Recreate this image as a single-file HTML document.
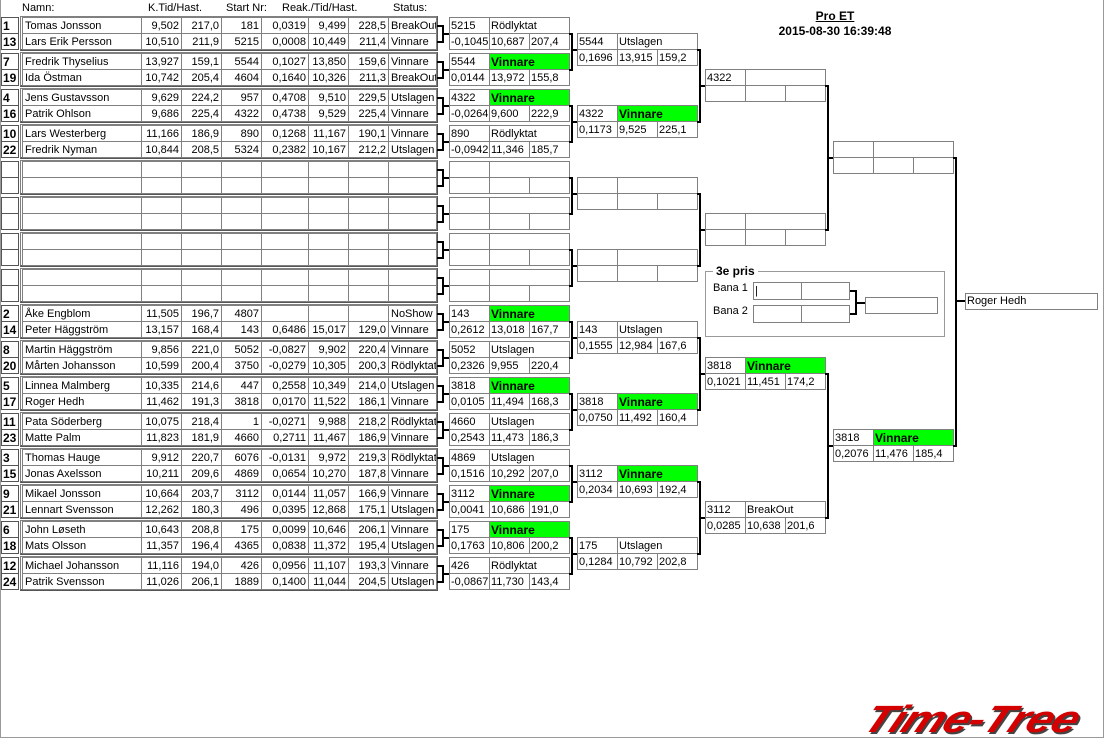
<!DOCTYPE html>
<html><head><meta charset="utf-8"><style>
body{margin:0;width:1104px;height:748px;background:#fff;position:relative;overflow:hidden;font-family:"Liberation Sans",sans-serif;font-size:11px;color:#000}
.a{position:absolute}
table{position:absolute;border-collapse:collapse;table-layout:fixed}
td{border:1px solid #808080;height:15px;padding:0 2px;font-size:11px;line-height:14px;white-space:nowrap;overflow:hidden;text-align:right}
table.L{left:22px;width:414px}
table.L td:first-child,table.L td:last-child{text-align:left}
table.S{left:1px;width:18px}
table.S td{font-weight:bold;font-size:12px;text-align:left;padding:0 1px;border-color:#555}
table.B{width:121px}
table.B td{text-align:left;padding:0 1px}
td.g{background:#00ff00;font-weight:bold;font-size:12px}
.fr{position:absolute;left:20px;width:415px;height:32px;border:1px solid #808080;border-right:2px solid #555;border-bottom:2px solid #555}
.k{position:absolute;background:#000}
.h{position:absolute;top:2px;font-size:11px}
</style></head><body>
<div class="a" style="left:0;top:0;width:1102px;height:737px;border-left:1px solid #999;border-right:1px solid #999;border-bottom:1px solid #999"></div>
<div class="h" style="left:22px">Namn:</div>
<div class="h" style="left:148px">K.Tid/Hast.</div>
<div class="h" style="left:226px">Start Nr:</div>
<div class="h" style="left:282px">Reak./Tid/Hast.</div>
<div class="h" style="left:393px">Status:</div>
<div class="a" style="left:775px;top:9px;width:120px;text-align:center;font-weight:bold;font-size:12px;text-decoration:underline">Pro ET</div>
<div class="a" style="left:755px;top:24px;width:160px;text-align:center;font-weight:bold;font-size:12px">2015-08-30 16:39:48</div>

<div class="fr" style="top:16px"></div><div class="fr" style="top:52px"></div><div class="fr" style="top:88px"></div><div class="fr" style="top:124px"></div>
<div class="fr" style="top:160px"></div><div class="fr" style="top:196px"></div><div class="fr" style="top:232px"></div><div class="fr" style="top:268px"></div>
<div class="fr" style="top:304px"></div><div class="fr" style="top:340px"></div><div class="fr" style="top:376px"></div><div class="fr" style="top:412px"></div>
<div class="fr" style="top:448px"></div><div class="fr" style="top:484px"></div><div class="fr" style="top:520px"></div><div class="fr" style="top:556px"></div>

<table class="S" style="top:17px"><tr><td>1</td></tr><tr><td>13</td></tr></table>
<table class="S" style="top:53px"><tr><td>7</td></tr><tr><td>19</td></tr></table>
<table class="S" style="top:89px"><tr><td>4</td></tr><tr><td>16</td></tr></table>
<table class="S" style="top:125px"><tr><td>10</td></tr><tr><td>22</td></tr></table>
<table class="S" style="top:161px"><tr><td></td></tr><tr><td></td></tr></table>
<table class="S" style="top:197px"><tr><td></td></tr><tr><td></td></tr></table>
<table class="S" style="top:233px"><tr><td></td></tr><tr><td></td></tr></table>
<table class="S" style="top:269px"><tr><td></td></tr><tr><td></td></tr></table>
<table class="S" style="top:305px"><tr><td>2</td></tr><tr><td>14</td></tr></table>
<table class="S" style="top:341px"><tr><td>8</td></tr><tr><td>20</td></tr></table>
<table class="S" style="top:377px"><tr><td>5</td></tr><tr><td>17</td></tr></table>
<table class="S" style="top:413px"><tr><td>11</td></tr><tr><td>23</td></tr></table>
<table class="S" style="top:449px"><tr><td>3</td></tr><tr><td>15</td></tr></table>
<table class="S" style="top:485px"><tr><td>9</td></tr><tr><td>21</td></tr></table>
<table class="S" style="top:521px"><tr><td>6</td></tr><tr><td>18</td></tr></table>
<table class="S" style="top:557px"><tr><td>12</td></tr><tr><td>24</td></tr></table>

<table class="L" style="top:17px"><colgroup><col style="width:119px"><col style="width:40px"><col style="width:40px"><col style="width:40px"><col style="width:47px"><col style="width:40px"><col style="width:40px"><col style="width:48px"></colgroup>
<tr><td>Tomas Jonsson</td><td>9,502</td><td>217,0</td><td>181</td><td>0,0319</td><td>9,499</td><td>228,5</td><td>BreakOut</td></tr>
<tr><td>Lars Erik Persson</td><td>10,510</td><td>211,9</td><td>5215</td><td>0,0008</td><td>10,449</td><td>211,4</td><td>Vinnare</td></tr></table>
<table class="L" style="top:53px"><colgroup><col style="width:119px"><col style="width:40px"><col style="width:40px"><col style="width:40px"><col style="width:47px"><col style="width:40px"><col style="width:40px"><col style="width:48px"></colgroup>
<tr><td>Fredrik Thyselius</td><td>13,927</td><td>159,1</td><td>5544</td><td>0,1027</td><td>13,850</td><td>159,6</td><td>Vinnare</td></tr>
<tr><td>Ida Östman</td><td>10,742</td><td>205,4</td><td>4604</td><td>0,1640</td><td>10,326</td><td>211,3</td><td>BreakOut</td></tr></table>
<table class="L" style="top:89px"><colgroup><col style="width:119px"><col style="width:40px"><col style="width:40px"><col style="width:40px"><col style="width:47px"><col style="width:40px"><col style="width:40px"><col style="width:48px"></colgroup>
<tr><td>Jens Gustavsson</td><td>9,629</td><td>224,2</td><td>957</td><td>0,4708</td><td>9,510</td><td>229,5</td><td>Utslagen</td></tr>
<tr><td>Patrik Ohlson</td><td>9,686</td><td>225,4</td><td>4322</td><td>0,4738</td><td>9,529</td><td>225,4</td><td>Vinnare</td></tr></table>
<table class="L" style="top:125px"><colgroup><col style="width:119px"><col style="width:40px"><col style="width:40px"><col style="width:40px"><col style="width:47px"><col style="width:40px"><col style="width:40px"><col style="width:48px"></colgroup>
<tr><td>Lars Westerberg</td><td>11,166</td><td>186,9</td><td>890</td><td>0,1268</td><td>11,167</td><td>190,1</td><td>Vinnare</td></tr>
<tr><td>Fredrik Nyman</td><td>10,844</td><td>208,5</td><td>5324</td><td>0,2382</td><td>10,167</td><td>212,2</td><td>Utslagen</td></tr></table>
<table class="L" style="top:161px"><colgroup><col style="width:119px"><col style="width:40px"><col style="width:40px"><col style="width:40px"><col style="width:47px"><col style="width:40px"><col style="width:40px"><col style="width:48px"></colgroup>
<tr><td></td><td></td><td></td><td></td><td></td><td></td><td></td><td></td></tr><tr><td></td><td></td><td></td><td></td><td></td><td></td><td></td><td></td></tr></table>
<table class="L" style="top:197px"><colgroup><col style="width:119px"><col style="width:40px"><col style="width:40px"><col style="width:40px"><col style="width:47px"><col style="width:40px"><col style="width:40px"><col style="width:48px"></colgroup>
<tr><td></td><td></td><td></td><td></td><td></td><td></td><td></td><td></td></tr><tr><td></td><td></td><td></td><td></td><td></td><td></td><td></td><td></td></tr></table>
<table class="L" style="top:233px"><colgroup><col style="width:119px"><col style="width:40px"><col style="width:40px"><col style="width:40px"><col style="width:47px"><col style="width:40px"><col style="width:40px"><col style="width:48px"></colgroup>
<tr><td></td><td></td><td></td><td></td><td></td><td></td><td></td><td></td></tr><tr><td></td><td></td><td></td><td></td><td></td><td></td><td></td><td></td></tr></table>
<table class="L" style="top:269px"><colgroup><col style="width:119px"><col style="width:40px"><col style="width:40px"><col style="width:40px"><col style="width:47px"><col style="width:40px"><col style="width:40px"><col style="width:48px"></colgroup>
<tr><td></td><td></td><td></td><td></td><td></td><td></td><td></td><td></td></tr><tr><td></td><td></td><td></td><td></td><td></td><td></td><td></td><td></td></tr></table>
<table class="L" style="top:305px"><colgroup><col style="width:119px"><col style="width:40px"><col style="width:40px"><col style="width:40px"><col style="width:47px"><col style="width:40px"><col style="width:40px"><col style="width:48px"></colgroup>
<tr><td>Åke Engblom</td><td>11,505</td><td>196,7</td><td>4807</td><td></td><td></td><td></td><td>NoShow</td></tr>
<tr><td>Peter Häggström</td><td>13,157</td><td>168,4</td><td>143</td><td>0,6486</td><td>15,017</td><td>129,0</td><td>Vinnare</td></tr></table>
<table class="L" style="top:341px"><colgroup><col style="width:119px"><col style="width:40px"><col style="width:40px"><col style="width:40px"><col style="width:47px"><col style="width:40px"><col style="width:40px"><col style="width:48px"></colgroup>
<tr><td>Martin Häggström</td><td>9,856</td><td>221,0</td><td>5052</td><td>-0,0827</td><td>9,902</td><td>220,4</td><td>Vinnare</td></tr>
<tr><td>Mårten Johansson</td><td>10,599</td><td>200,4</td><td>3750</td><td>-0,0279</td><td>10,305</td><td>200,3</td><td>Rödlyktat</td></tr></table>
<table class="L" style="top:377px"><colgroup><col style="width:119px"><col style="width:40px"><col style="width:40px"><col style="width:40px"><col style="width:47px"><col style="width:40px"><col style="width:40px"><col style="width:48px"></colgroup>
<tr><td>Linnea Malmberg</td><td>10,335</td><td>214,6</td><td>447</td><td>0,2558</td><td>10,349</td><td>214,0</td><td>Utslagen</td></tr>
<tr><td>Roger Hedh</td><td>11,462</td><td>191,3</td><td>3818</td><td>0,0170</td><td>11,522</td><td>186,1</td><td>Vinnare</td></tr></table>
<table class="L" style="top:413px"><colgroup><col style="width:119px"><col style="width:40px"><col style="width:40px"><col style="width:40px"><col style="width:47px"><col style="width:40px"><col style="width:40px"><col style="width:48px"></colgroup>
<tr><td>Pata Söderberg</td><td>10,075</td><td>218,4</td><td>1</td><td>-0,0271</td><td>9,988</td><td>218,2</td><td>Rödlyktat</td></tr>
<tr><td>Matte Palm</td><td>11,823</td><td>181,9</td><td>4660</td><td>0,2711</td><td>11,467</td><td>186,9</td><td>Vinnare</td></tr></table>
<table class="L" style="top:449px"><colgroup><col style="width:119px"><col style="width:40px"><col style="width:40px"><col style="width:40px"><col style="width:47px"><col style="width:40px"><col style="width:40px"><col style="width:48px"></colgroup>
<tr><td>Thomas Hauge</td><td>9,912</td><td>220,7</td><td>6076</td><td>-0,0131</td><td>9,972</td><td>219,3</td><td>Rödlyktat</td></tr>
<tr><td>Jonas Axelsson</td><td>10,211</td><td>209,6</td><td>4869</td><td>0,0654</td><td>10,270</td><td>187,8</td><td>Vinnare</td></tr></table>
<table class="L" style="top:485px"><colgroup><col style="width:119px"><col style="width:40px"><col style="width:40px"><col style="width:40px"><col style="width:47px"><col style="width:40px"><col style="width:40px"><col style="width:48px"></colgroup>
<tr><td>Mikael Jonsson</td><td>10,664</td><td>203,7</td><td>3112</td><td>0,0144</td><td>11,057</td><td>166,9</td><td>Vinnare</td></tr>
<tr><td>Lennart Svensson</td><td>12,262</td><td>180,3</td><td>496</td><td>0,0395</td><td>12,868</td><td>175,1</td><td>Utslagen</td></tr></table>
<table class="L" style="top:521px"><colgroup><col style="width:119px"><col style="width:40px"><col style="width:40px"><col style="width:40px"><col style="width:47px"><col style="width:40px"><col style="width:40px"><col style="width:48px"></colgroup>
<tr><td>John Løseth</td><td>10,643</td><td>208,8</td><td>175</td><td>0,0099</td><td>10,646</td><td>206,1</td><td>Vinnare</td></tr>
<tr><td>Mats Olsson</td><td>11,357</td><td>196,4</td><td>4365</td><td>0,0838</td><td>11,372</td><td>195,4</td><td>Utslagen</td></tr></table>
<table class="L" style="top:557px"><colgroup><col style="width:119px"><col style="width:40px"><col style="width:40px"><col style="width:40px"><col style="width:47px"><col style="width:40px"><col style="width:40px"><col style="width:48px"></colgroup>
<tr><td>Michael Johansson</td><td>11,116</td><td>194,0</td><td>426</td><td>0,0956</td><td>11,107</td><td>193,3</td><td>Vinnare</td></tr>
<tr><td>Patrik Svensson</td><td>11,026</td><td>206,1</td><td>1889</td><td>0,1400</td><td>11,044</td><td>204,5</td><td>Utslagen</td></tr></table>

<div class="k" style="left:437px;top:25px;width:7px;height:2px"></div><div class="k" style="left:437px;top:41px;width:7px;height:2px"></div><div class="k" style="left:442px;top:25px;width:2px;height:18px"></div><div class="k" style="left:442px;top:33px;width:7px;height:2px"></div>
<div class="k" style="left:437px;top:61px;width:7px;height:2px"></div><div class="k" style="left:437px;top:77px;width:7px;height:2px"></div><div class="k" style="left:442px;top:61px;width:2px;height:18px"></div><div class="k" style="left:442px;top:69px;width:7px;height:2px"></div>
<div class="k" style="left:437px;top:97px;width:7px;height:2px"></div><div class="k" style="left:437px;top:113px;width:7px;height:2px"></div><div class="k" style="left:442px;top:97px;width:2px;height:18px"></div><div class="k" style="left:442px;top:105px;width:7px;height:2px"></div>
<div class="k" style="left:437px;top:133px;width:7px;height:2px"></div><div class="k" style="left:437px;top:149px;width:7px;height:2px"></div><div class="k" style="left:442px;top:133px;width:2px;height:18px"></div><div class="k" style="left:442px;top:141px;width:7px;height:2px"></div>
<div class="k" style="left:437px;top:169px;width:7px;height:2px"></div><div class="k" style="left:437px;top:185px;width:7px;height:2px"></div><div class="k" style="left:442px;top:169px;width:2px;height:18px"></div><div class="k" style="left:442px;top:177px;width:7px;height:2px"></div>
<div class="k" style="left:437px;top:205px;width:7px;height:2px"></div><div class="k" style="left:437px;top:221px;width:7px;height:2px"></div><div class="k" style="left:442px;top:205px;width:2px;height:18px"></div><div class="k" style="left:442px;top:213px;width:7px;height:2px"></div>
<div class="k" style="left:437px;top:241px;width:7px;height:2px"></div><div class="k" style="left:437px;top:257px;width:7px;height:2px"></div><div class="k" style="left:442px;top:241px;width:2px;height:18px"></div><div class="k" style="left:442px;top:249px;width:7px;height:2px"></div>
<div class="k" style="left:437px;top:277px;width:7px;height:2px"></div><div class="k" style="left:437px;top:293px;width:7px;height:2px"></div><div class="k" style="left:442px;top:277px;width:2px;height:18px"></div><div class="k" style="left:442px;top:285px;width:7px;height:2px"></div>
<div class="k" style="left:437px;top:313px;width:7px;height:2px"></div><div class="k" style="left:437px;top:329px;width:7px;height:2px"></div><div class="k" style="left:442px;top:313px;width:2px;height:18px"></div><div class="k" style="left:442px;top:321px;width:7px;height:2px"></div>
<div class="k" style="left:437px;top:349px;width:7px;height:2px"></div><div class="k" style="left:437px;top:365px;width:7px;height:2px"></div><div class="k" style="left:442px;top:349px;width:2px;height:18px"></div><div class="k" style="left:442px;top:357px;width:7px;height:2px"></div>
<div class="k" style="left:437px;top:385px;width:7px;height:2px"></div><div class="k" style="left:437px;top:401px;width:7px;height:2px"></div><div class="k" style="left:442px;top:385px;width:2px;height:18px"></div><div class="k" style="left:442px;top:393px;width:7px;height:2px"></div>
<div class="k" style="left:437px;top:421px;width:7px;height:2px"></div><div class="k" style="left:437px;top:437px;width:7px;height:2px"></div><div class="k" style="left:442px;top:421px;width:2px;height:18px"></div><div class="k" style="left:442px;top:429px;width:7px;height:2px"></div>
<div class="k" style="left:437px;top:457px;width:7px;height:2px"></div><div class="k" style="left:437px;top:473px;width:7px;height:2px"></div><div class="k" style="left:442px;top:457px;width:2px;height:18px"></div><div class="k" style="left:442px;top:465px;width:7px;height:2px"></div>
<div class="k" style="left:437px;top:493px;width:7px;height:2px"></div><div class="k" style="left:437px;top:509px;width:7px;height:2px"></div><div class="k" style="left:442px;top:493px;width:2px;height:18px"></div><div class="k" style="left:442px;top:501px;width:7px;height:2px"></div>
<div class="k" style="left:437px;top:529px;width:7px;height:2px"></div><div class="k" style="left:437px;top:545px;width:7px;height:2px"></div><div class="k" style="left:442px;top:529px;width:2px;height:18px"></div><div class="k" style="left:442px;top:537px;width:7px;height:2px"></div>
<div class="k" style="left:437px;top:565px;width:7px;height:2px"></div><div class="k" style="left:437px;top:581px;width:7px;height:2px"></div><div class="k" style="left:442px;top:565px;width:2px;height:18px"></div><div class="k" style="left:442px;top:573px;width:7px;height:2px"></div>

<table class="B" style="left:449px;top:17px"><tr><td>5215</td><td colspan="2">Rödlyktat</td></tr><tr><td>-0,1045</td><td>10,687</td><td>207,4</td></tr></table>
<table class="B" style="left:449px;top:53px"><tr><td>5544</td><td colspan="2" class="g">Vinnare</td></tr><tr><td>0,0144</td><td>13,972</td><td>155,8</td></tr></table>
<table class="B" style="left:449px;top:89px"><tr><td>4322</td><td colspan="2" class="g">Vinnare</td></tr><tr><td>-0,0264</td><td>9,600</td><td>222,9</td></tr></table>
<table class="B" style="left:449px;top:125px"><tr><td>890</td><td colspan="2">Rödlyktat</td></tr><tr><td>-0,0942</td><td>11,346</td><td>185,7</td></tr></table>
<table class="B" style="left:449px;top:161px"><tr><td></td><td colspan="2"></td></tr><tr><td></td><td></td><td></td></tr></table>
<table class="B" style="left:449px;top:197px"><tr><td></td><td colspan="2"></td></tr><tr><td></td><td></td><td></td></tr></table>
<table class="B" style="left:449px;top:233px"><tr><td></td><td colspan="2"></td></tr><tr><td></td><td></td><td></td></tr></table>
<table class="B" style="left:449px;top:269px"><tr><td></td><td colspan="2"></td></tr><tr><td></td><td></td><td></td></tr></table>
<table class="B" style="left:449px;top:305px"><tr><td>143</td><td colspan="2" class="g">Vinnare</td></tr><tr><td>0,2612</td><td>13,018</td><td>167,7</td></tr></table>
<table class="B" style="left:449px;top:341px"><tr><td>5052</td><td colspan="2">Utslagen</td></tr><tr><td>0,2326</td><td>9,955</td><td>220,4</td></tr></table>
<table class="B" style="left:449px;top:377px"><tr><td>3818</td><td colspan="2" class="g">Vinnare</td></tr><tr><td>0,0105</td><td>11,494</td><td>168,3</td></tr></table>
<table class="B" style="left:449px;top:413px"><tr><td>4660</td><td colspan="2">Utslagen</td></tr><tr><td>0,2543</td><td>11,473</td><td>186,3</td></tr></table>
<table class="B" style="left:449px;top:449px"><tr><td>4869</td><td colspan="2">Utslagen</td></tr><tr><td>0,1516</td><td>10,292</td><td>207,0</td></tr></table>
<table class="B" style="left:449px;top:485px"><tr><td>3112</td><td colspan="2" class="g">Vinnare</td></tr><tr><td>0,0041</td><td>10,686</td><td>191,0</td></tr></table>
<table class="B" style="left:449px;top:521px"><tr><td>175</td><td colspan="2" class="g">Vinnare</td></tr><tr><td>0,1763</td><td>10,806</td><td>200,2</td></tr></table>
<table class="B" style="left:449px;top:557px"><tr><td>426</td><td colspan="2">Rödlyktat</td></tr><tr><td>-0,0867</td><td>11,730</td><td>143,4</td></tr></table>

<div class="k" style="left:569px;top:33px;width:4px;height:2px"></div><div class="k" style="left:569px;top:69px;width:4px;height:2px"></div><div class="k" style="left:571px;top:33px;width:2px;height:38px"></div><div class="k" style="left:571px;top:49px;width:6px;height:2px"></div>
<div class="k" style="left:569px;top:105px;width:4px;height:2px"></div><div class="k" style="left:569px;top:141px;width:4px;height:2px"></div><div class="k" style="left:571px;top:105px;width:2px;height:38px"></div><div class="k" style="left:571px;top:121px;width:6px;height:2px"></div>
<div class="k" style="left:569px;top:177px;width:4px;height:2px"></div><div class="k" style="left:569px;top:213px;width:4px;height:2px"></div><div class="k" style="left:571px;top:177px;width:2px;height:38px"></div><div class="k" style="left:571px;top:193px;width:6px;height:2px"></div>
<div class="k" style="left:569px;top:249px;width:4px;height:2px"></div><div class="k" style="left:569px;top:285px;width:4px;height:2px"></div><div class="k" style="left:571px;top:249px;width:2px;height:38px"></div><div class="k" style="left:571px;top:265px;width:6px;height:2px"></div>
<div class="k" style="left:569px;top:321px;width:4px;height:2px"></div><div class="k" style="left:569px;top:357px;width:4px;height:2px"></div><div class="k" style="left:571px;top:321px;width:2px;height:38px"></div><div class="k" style="left:571px;top:337px;width:6px;height:2px"></div>
<div class="k" style="left:569px;top:393px;width:4px;height:2px"></div><div class="k" style="left:569px;top:429px;width:4px;height:2px"></div><div class="k" style="left:571px;top:393px;width:2px;height:38px"></div><div class="k" style="left:571px;top:409px;width:6px;height:2px"></div>
<div class="k" style="left:569px;top:465px;width:4px;height:2px"></div><div class="k" style="left:569px;top:501px;width:4px;height:2px"></div><div class="k" style="left:571px;top:465px;width:2px;height:38px"></div><div class="k" style="left:571px;top:481px;width:6px;height:2px"></div>
<div class="k" style="left:569px;top:537px;width:4px;height:2px"></div><div class="k" style="left:569px;top:573px;width:4px;height:2px"></div><div class="k" style="left:571px;top:537px;width:2px;height:38px"></div><div class="k" style="left:571px;top:553px;width:6px;height:2px"></div>

<table class="B" style="left:577px;top:33px"><tr><td>5544</td><td colspan="2">Utslagen</td></tr><tr><td>0,1696</td><td>13,915</td><td>159,2</td></tr></table>
<table class="B" style="left:577px;top:105px"><tr><td>4322</td><td colspan="2" class="g">Vinnare</td></tr><tr><td>0,1173</td><td>9,525</td><td>225,1</td></tr></table>
<table class="B" style="left:577px;top:177px"><tr><td></td><td colspan="2"></td></tr><tr><td></td><td></td><td></td></tr></table>
<table class="B" style="left:577px;top:249px"><tr><td></td><td colspan="2"></td></tr><tr><td></td><td></td><td></td></tr></table>
<table class="B" style="left:577px;top:321px"><tr><td>143</td><td colspan="2">Utslagen</td></tr><tr><td>0,1555</td><td>12,984</td><td>167,6</td></tr></table>
<table class="B" style="left:577px;top:393px"><tr><td>3818</td><td colspan="2" class="g">Vinnare</td></tr><tr><td>0,0750</td><td>11,492</td><td>160,4</td></tr></table>
<table class="B" style="left:577px;top:465px"><tr><td>3112</td><td colspan="2" class="g">Vinnare</td></tr><tr><td>0,2034</td><td>10,693</td><td>192,4</td></tr></table>
<table class="B" style="left:577px;top:537px"><tr><td>175</td><td colspan="2">Utslagen</td></tr><tr><td>0,1284</td><td>10,792</td><td>202,8</td></tr></table>

<div class="k" style="left:697px;top:49px;width:4px;height:2px"></div><div class="k" style="left:697px;top:121px;width:4px;height:2px"></div><div class="k" style="left:699px;top:49px;width:2px;height:74px"></div><div class="k" style="left:699px;top:85px;width:6px;height:2px"></div>
<div class="k" style="left:697px;top:193px;width:4px;height:2px"></div><div class="k" style="left:697px;top:265px;width:4px;height:2px"></div><div class="k" style="left:699px;top:193px;width:2px;height:74px"></div><div class="k" style="left:699px;top:229px;width:6px;height:2px"></div>
<div class="k" style="left:697px;top:337px;width:4px;height:2px"></div><div class="k" style="left:697px;top:409px;width:4px;height:2px"></div><div class="k" style="left:699px;top:337px;width:2px;height:74px"></div><div class="k" style="left:699px;top:373px;width:6px;height:2px"></div>
<div class="k" style="left:697px;top:481px;width:4px;height:2px"></div><div class="k" style="left:697px;top:553px;width:4px;height:2px"></div><div class="k" style="left:699px;top:481px;width:2px;height:74px"></div><div class="k" style="left:699px;top:517px;width:6px;height:2px"></div>

<table class="B" style="left:705px;top:69px"><tr><td>4322</td><td colspan="2"></td></tr><tr><td></td><td></td><td></td></tr></table>
<table class="B" style="left:705px;top:213px"><tr><td></td><td colspan="2"></td></tr><tr><td></td><td></td><td></td></tr></table>
<table class="B" style="left:705px;top:357px"><tr><td>3818</td><td colspan="2" class="g">Vinnare</td></tr><tr><td>0,1021</td><td>11,451</td><td>174,2</td></tr></table>
<table class="B" style="left:705px;top:501px"><tr><td>3112</td><td colspan="2">BreakOut</td></tr><tr><td>0,0285</td><td>10,638</td><td>201,6</td></tr></table>

<div class="k" style="left:825px;top:85px;width:4px;height:2px"></div><div class="k" style="left:825px;top:229px;width:4px;height:2px"></div><div class="k" style="left:827px;top:85px;width:2px;height:146px"></div><div class="k" style="left:827px;top:157px;width:6px;height:2px"></div>
<div class="k" style="left:825px;top:373px;width:4px;height:2px"></div><div class="k" style="left:825px;top:517px;width:4px;height:2px"></div><div class="k" style="left:827px;top:373px;width:2px;height:146px"></div><div class="k" style="left:827px;top:445px;width:6px;height:2px"></div>

<table class="B" style="left:833px;top:141px"><tr><td></td><td colspan="2"></td></tr><tr><td></td><td></td><td></td></tr></table>
<table class="B" style="left:833px;top:429px"><tr><td>3818</td><td colspan="2" class="g">Vinnare</td></tr><tr><td>0,2076</td><td>11,476</td><td>185,4</td></tr></table>

<div class="k" style="left:953px;top:157px;width:4px;height:2px"></div><div class="k" style="left:953px;top:445px;width:4px;height:2px"></div><div class="k" style="left:955px;top:157px;width:2px;height:290px"></div><div class="k" style="left:955px;top:300px;width:10px;height:2px"></div>
<div class="a" style="left:965px;top:293px;border:1px solid #808080;line-height:15px;padding-left:1px;box-sizing:border-box;height:17px;width:133px">Roger Hedh</div>

<div class="a" style="left:705px;top:271px;width:238px;height:64px;border:1px solid #999"></div>
<div class="a" style="left:713px;top:264px;padding:0 3px;background:#fff;font-weight:bold;font-size:12px">3e pris</div>
<div class="a" style="left:713px;top:282px">Bana 1</div>
<div class="a" style="left:713px;top:305px">Bana 2</div>
<table class="B" style="left:753px;top:282px;width:97px"><tr><td style="height:16px">|</td><td></td></tr></table>
<table class="B" style="left:753px;top:305px;width:97px"><tr><td style="height:16px"></td><td></td></tr></table>
<div class="k" style="left:850px;top:290px;width:7px;height:2px"></div><div class="k" style="left:850px;top:313px;width:7px;height:2px"></div><div class="k" style="left:855px;top:290px;width:2px;height:25px"></div><div class="k" style="left:855px;top:302px;width:10px;height:2px"></div>
<div class="a" style="left:865px;top:297px;width:71px;height:15px;border:1px solid #808080"></div>

<div class="a" style="left:874px;top:701px;font-family:'Liberation Sans',sans-serif;font-weight:bold;font-style:italic;font-size:38px;letter-spacing:-1px;color:#d40000;transform-origin:0 0;transform:scaleX(1.24) skewX(-20deg);text-shadow:2px 2px 0 #444;line-height:38px">Time-Tree</div>
</body></html>
